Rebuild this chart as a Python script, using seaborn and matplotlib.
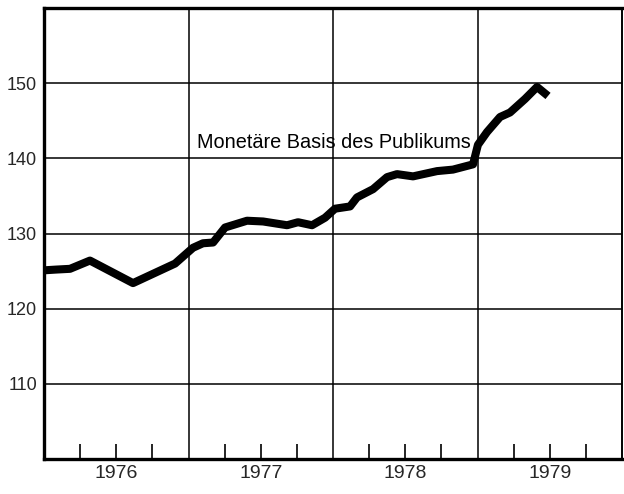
import matplotlib
matplotlib.use("Agg")
import matplotlib.pyplot as plt
import seaborn as sns
import pandas as pd

# Data (fractional year, index value)
dates = [1976.000, 1976.083, 1976.180, 1976.318, 1976.616, 1976.907, 1977.031,
         1977.100, 1977.170, 1977.253, 1977.405, 1977.516, 1977.682, 1977.758,
         1977.855, 1977.945, 1978.014, 1978.118, 1978.166, 1978.277, 1978.374,
         1978.443, 1978.554, 1978.720, 1978.830, 1978.969, 1979.003, 1979.066,
         1979.156, 1979.225, 1979.329, 1979.412, 1979.488]
values = [125.1, 125.2, 125.3, 126.4, 123.4, 126.0, 128.1,
          128.7, 128.8, 130.8, 131.7, 131.6, 131.1, 131.5,
          131.1, 132.1, 133.3, 133.6, 134.8, 135.9, 137.5,
          137.9, 137.6, 138.3, 138.5, 139.2, 141.8, 143.5,
          145.5, 146.1, 147.9, 149.5, 148.3]
years = [1976, 1977, 1978, 1979]
year_labels = ["1976", "1977", "1978", "1979"]
y_ticks = [110, 120, 130, 140, 150]
series_label = "Monetäre Basis des Publikums"

df = pd.DataFrame({"date": dates, "value": values})

sns.set_style("white")
plt.rcParams["font.family"] = ["Liberation Sans", "DejaVu Sans"]

fig = plt.figure(figsize=(6.24, 4.94), dpi=100)
ax = fig.add_axes([44 / 624, 1 - 459 / 494, (622 - 44) / 624, (459 - 8) / 494])

sns.lineplot(data=df, x="date", y="value", ax=ax, color="black", linewidth=5.8,
             solid_joinstyle="round", solid_capstyle="butt", zorder=5)

ax.set_xlim(years[0], years[-1] + 1)
ax.set_ylim(100, 160)

# horizontal grid
ax.set_yticks(y_ticks)
ax.set_yticklabels([str(v) for v in y_ticks], fontsize=13)
ax.tick_params(axis="y", length=0, pad=5)
for v in y_ticks:
    ax.axhline(v, color="black", linewidth=1.1, zorder=1)
# vertical year boundaries
for yr in years[1:]:
    ax.axvline(yr, color="black", linewidth=1.1, zorder=1)

# year labels centred in each year, quarter ticks inside
ax.set_xticks([y + 0.5 for y in years])
ax.set_xticklabels(year_labels, fontsize=14)
ax.tick_params(axis="x", which="major", length=0, pad=4)
ax.xaxis.remove_overlapping_locs = False
minor = [y + q for y in years for q in (0.25, 0.5, 0.75)]
ax.set_xticks(minor, minor=True)
ax.tick_params(axis="x", which="minor", direction="in", length=10.5, width=1.2,
               color="black", bottom=True)

ax.set_xlabel("")
ax.set_ylabel("")

for side in ["left", "bottom", "top"]:
    ax.spines[side].set_visible(True)
    ax.spines[side].set_color("black")
    ax.spines[side].set_linewidth(2.4)
ax.spines["right"].set_visible(True)
ax.spines["right"].set_color("black")
ax.spines["right"].set_linewidth(1.4)

ax.text(1977.06, 142.1, series_label, fontsize=14.3, ha="left", va="center",
        color="black", zorder=6)

fig.savefig("out.png", dpi=100)
